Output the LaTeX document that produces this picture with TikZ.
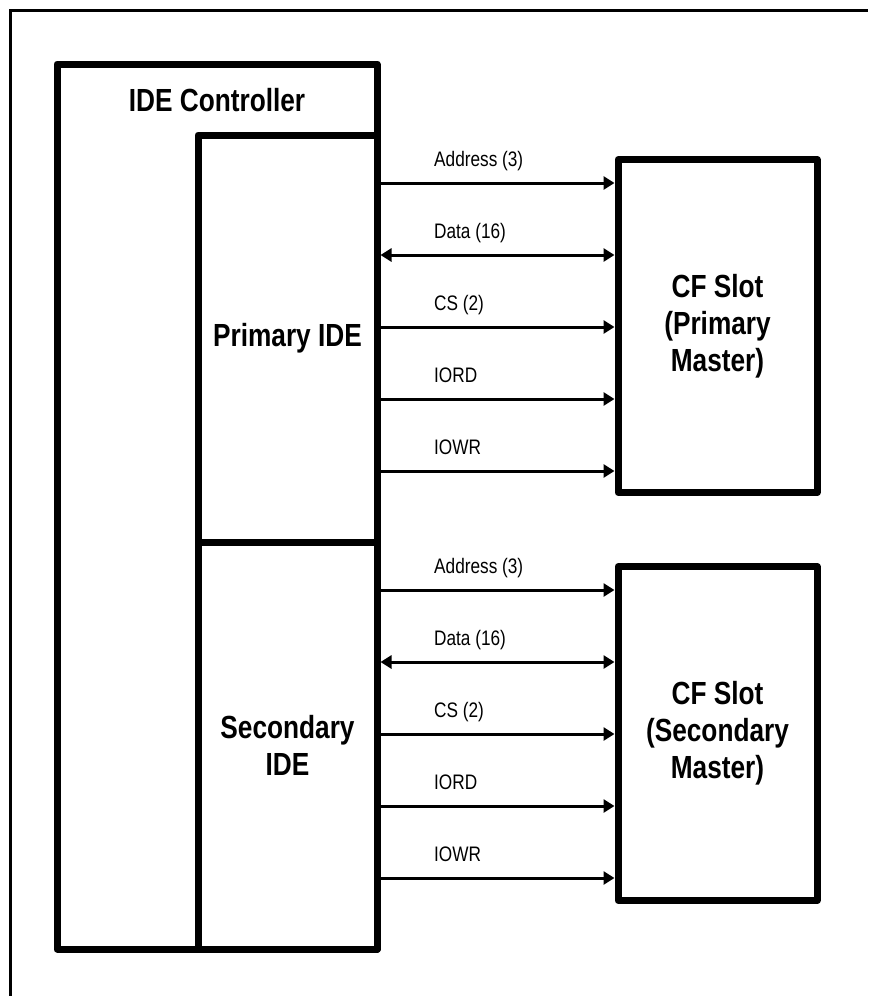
\documentclass[tikz,border=0pt]{standalone}
\usepackage{fontspec}
\setmainfont[FakeStretch=0.82]{Liberation Sans}
\usetikzlibrary{arrows.meta}

\begin{document}
\begin{tikzpicture}[x=1pt,y=-1pt,>={Triangle[length=11pt,width=13pt]},
  box/.style={draw,line width=7pt,line join=round,fill=white,inner sep=0pt},
  big/.style={font=\fontsize{32}{37}\selectfont\bfseries,align=center},
  sig/.style={line width=3pt},
  lab/.style={font=\fontsize{21}{24}\selectfont,anchor=base west,inner sep=0pt}]
\useasboundingbox (0,0) rectangle (868,996);
\draw[line width=3pt] (10,996) -- (10,10) -- (868,10);
% controller with its two channels
\node[box,minimum width=320pt,minimum height=885pt] (ctrl) at (217,506.5) {};
\node[big] (ctrltitle) at (217,100) {IDE Controller};
\node[box,big,minimum width=179pt,minimum height=407pt] (pide) at (287.5,338.5) {Primary IDE};
\node[box,big,minimum width=179pt,minimum height=407pt] (side) at (287.5,745.5) {Secondary\\IDE};
% the two CF slots
\node[box,big,minimum width=199pt,minimum height=333pt] (cfp) at (717.5,326) {CF Slot\\(Primary\\Master)};
\node[box,big,minimum width=199pt,minimum height=334pt] (cfs) at (717.5,733.5) {CF Slot\\(Secondary\\Master)};
% signals, same for both channels
\foreach \ch/\slot/\d in {pide/cfp/0,side/cfs/407} {
  \draw[sig,->] (\ch.east |- 0,183+\d) -- (\slot.west |- 0,183+\d);
  \draw[sig,<->] (\ch.east |- 0,255+\d) -- (\slot.west |- 0,255+\d);
  \draw[sig,->] (\ch.east |- 0,327+\d) -- (\slot.west |- 0,327+\d);
  \draw[sig,->] (\ch.east |- 0,399+\d) -- (\slot.west |- 0,399+\d);
  \draw[sig,->] (\ch.east |- 0,471+\d) -- (\slot.west |- 0,471+\d);
  \node[lab] (\ch-adr) at (434,166+\d) {Address (3)};
  \node[lab] (\ch-dat) at (434,238+\d) {Data (16)};
  \node[lab] (\ch-cs) at (434,310+\d) {CS (2)};
  \node[lab] (\ch-rd) at (434,382+\d) {IORD};
  \node[lab] (\ch-wr) at (434,454+\d) {IOWR};
}
\end{tikzpicture}
\end{document}
